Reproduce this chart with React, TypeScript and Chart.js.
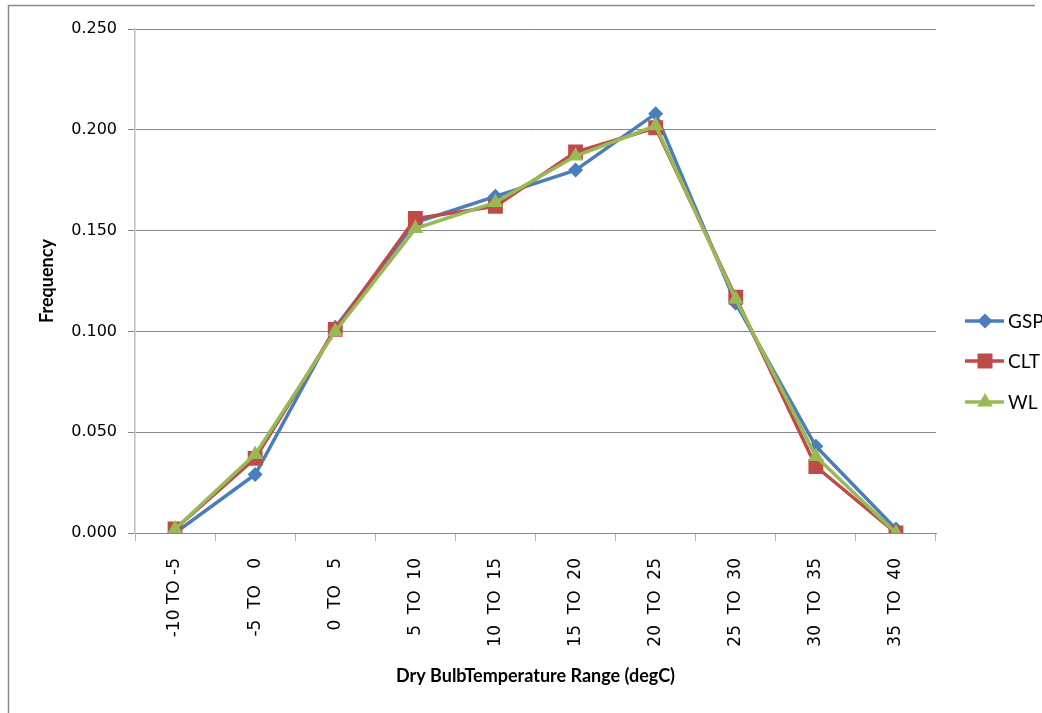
import React, { useEffect, useRef } from "react";
import { Chart, registerables } from "chart.js";

Chart.register(...registerables);

const categories = [
  "-10 TO -5",
  "-5  TO   0",
  "0  TO   5",
  "5  TO  10",
  "10  TO  15",
  "15  TO  20",
  "20  TO  25",
  "25  TO  30",
  "30  TO  35",
  "35  TO  40",
];

const gspValues = [0.0, 0.029, 0.102, 0.154, 0.167, 0.18, 0.208, 0.114, 0.043, 0.002];
const cltValues = [0.002, 0.037, 0.101, 0.156, 0.162, 0.189, 0.201, 0.117, 0.033, 0.0];
const wlValues = [0.002, 0.039, 0.1, 0.151, 0.164, 0.187, 0.202, 0.116, 0.038, 0.0];

const seriesNames = ["GSP", "CLT", "WL"];
const seriesColors = ["#4A7EBB", "#BE4B48", "#98B954"];
const seriesMarkers = ["rectRot", "rect", "triangle"];

const yTicks = [0, 0.05, 0.1, 0.15, 0.2, 0.25];

function drawMarker(ctx: CanvasRenderingContext2D, style: string, x: number, y: number, color: string) {
  ctx.save();
  ctx.fillStyle = color;
  ctx.beginPath();
  if (style === "rectRot") {
    const r = 7.5;
    ctx.moveTo(x, y - r);
    ctx.lineTo(x + r, y);
    ctx.lineTo(x, y + r);
    ctx.lineTo(x - r, y);
  } else if (style === "rect") {
    const s = 7.5;
    ctx.rect(x - s, y - s, 2 * s, 2 * s);
  } else {
    const r = 9;
    ctx.moveTo(x, y - r);
    ctx.lineTo(x + r * Math.sin(Math.PI / 3), y + r / 2);
    ctx.lineTo(x - r * Math.sin(Math.PI / 3), y + r / 2);
  }
  ctx.closePath();
  ctx.fill();
  ctx.restore();
}

const framePlugin = {
  id: "frame",
  beforeDraw(chart: any) {
    const ctx = chart.ctx as CanvasRenderingContext2D;
    ctx.save();
    ctx.fillStyle = "#ffffff";
    ctx.fillRect(0, 0, chart.width, chart.height);
    ctx.strokeStyle = "#8a8a8a";
    ctx.lineWidth = 1.5;
    ctx.beginPath();
    ctx.moveTo(8.5, 720);
    ctx.lineTo(8.5, 5.5);
    ctx.lineTo(1035, 5.5);
    ctx.stroke();
    ctx.restore();
  },
  afterDraw(chart: any) {
    const ctx = chart.ctx as CanvasRenderingContext2D;
    const ys = [321, 361, 402];
    ctx.save();
    for (let i = 0; i < seriesNames.length; i++) {
      const y = ys[i];
      ctx.strokeStyle = seriesColors[i];
      ctx.lineWidth = 3.5;
      ctx.beginPath();
      ctx.moveTo(965, y);
      ctx.lineTo(1004, y);
      ctx.stroke();
      drawMarker(ctx, seriesMarkers[i], 985, y, seriesColors[i]);
      ctx.fillStyle = "#000000";
      ctx.font = "19px Lato, 'Liberation Sans', sans-serif";
      ctx.textBaseline = "middle";
      ctx.textAlign = "left";
      ctx.fillText(seriesNames[i], 1008, y + 1);
    }
    ctx.restore();
  },
};

export default function App() {
  const canvasRef = useRef<HTMLCanvasElement | null>(null);

  useEffect(() => {
    if (!canvasRef.current) return;
    const values = [gspValues, cltValues, wlValues];
    const radii = [7.5, 10.5, 9];
    const chart = new Chart(canvasRef.current, {
      type: "line",
      data: {
        labels: categories,
        datasets: seriesNames.map((name, i) => ({
          label: name,
          data: values[i],
          borderColor: seriesColors[i],
          backgroundColor: seriesColors[i],
          borderWidth: 3.5,
          pointStyle: seriesMarkers[i] as any,
          pointRadius: radii[i],
          pointBorderWidth: 0,
          pointBackgroundColor: seriesColors[i],
          tension: 0,
          fill: false,
          order: 3 - i,
        })),
      },
      options: {
        responsive: false,
        animation: false,
        layout: { padding: { left: 0, top: 29, right: 106, bottom: 0 } },
        plugins: {
          legend: { display: false },
          tooltip: { enabled: false },
        },
        scales: {
          x: {
            type: "category",
            offset: true,
            grid: {
              offset: true,
              drawOnChartArea: false,
              drawTicks: true,
              tickLength: 8,
              tickColor: "#b5b5b5",
            },
            border: { color: "#868686", width: 1 },
            ticks: {
              minRotation: 90,
              maxRotation: 90,
              autoSkip: false,
              padding: 17,
              color: "#000000",
              font: { family: "'DejaVu Sans', Verdana, sans-serif", size: 17 },
            },
            title: {
              display: true,
              text: "Dry BulbTemperature Range (degC)",
              color: "#000000",
              font: { family: "Lato, 'Liberation Sans', sans-serif", size: 18, weight: "bold" },
              padding: 26,
            },
            afterFit: (s: any) => {
              s.height = 180;
            },
          },
          y: {
            min: 0,
            max: 0.25,
            afterBuildTicks: (s: any) => {
              s.ticks = yTicks.map((v) => ({ value: v }));
            },
            grid: {
              color: "#868686",
              lineWidth: 1,
              tickLength: 7,
              tickColor: "#868686",
            },
            border: { color: "#bdbdbd", width: 1.5 },
            ticks: {
              padding: 11,
              color: "#000000",
              font: { family: "'DejaVu Sans', Verdana, sans-serif", size: 16 },
              callback: (v: any) => Number(v).toFixed(3),
            },
            title: {
              display: true,
              text: "Frequency",
              color: "#000000",
              font: { family: "Lato, 'Liberation Sans', sans-serif", size: 18, weight: "bold" },
              padding: { top: 36, bottom: 0 },
            },
            afterFit: (s: any) => {
              s.width = 135;
            },
          },
        },
      },
      plugins: [framePlugin],
    });
    return () => chart.destroy();
  }, []);

  return (
    <div style={{ position: "fixed", left: 0, top: 0, width: 1042, height: 713, background: "#fff" }}>
      <canvas ref={canvasRef} width={1042} height={713} style={{ display: "block" }} />
    </div>
  );
}
